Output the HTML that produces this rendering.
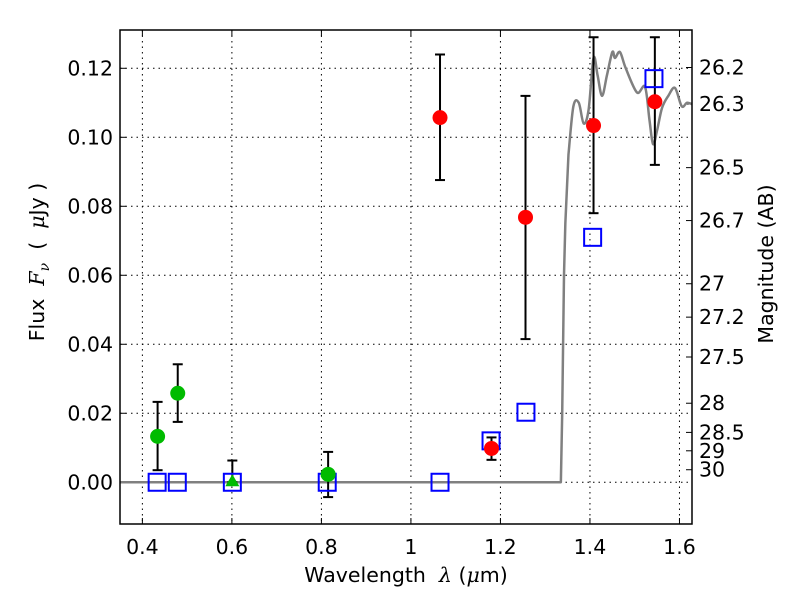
<!DOCTYPE html>
<html><head><meta charset="utf-8"><style>
body{margin:0;background:#fff;}
svg text{font-family:"DejaVu Sans","Liberation Sans",sans-serif;white-space:pre;}
</style></head><body>
<svg id="c" width="800" height="600" xmlns="http://www.w3.org/2000/svg" style="position:absolute;left:0;top:0"></svg>
<script>
const xTicks=[0.4,0.6,0.8,1.0,1.2,1.4,1.6];
const xTickLabels=["0.4","0.6","0.8","1","1.2","1.4","1.6"];
const yTicks=[0,0.02,0.04,0.06,0.08,0.1,0.12];
const yTickLabels=["0.00","0.02","0.04","0.06","0.08","0.10","0.12"];
const magTicks=[26.2,26.3,26.5,26.7,27,27.2,27.5,28,28.5,29,30];
const greenX=[0.434,0.479,0.815];
const greenY=[0.0133,0.0258,0.0023];
const greenLo=[0.0035,0.0175,-0.0043];
const greenHi=[0.0233,0.0342,0.0088];
const triX=[0.601];const triY=[0.0];const triLo=[0.0];const triHi=[0.0063];
const redX=[1.065,1.18,1.256,1.408,1.545];
const redY=[0.1057,0.0098,0.0768,0.1034,0.1103];
const redLo=[0.0876,0.0065,0.0415,0.078,0.092];
const redHi=[0.124,0.013,0.112,0.129,0.129];
const sqX=[0.433,0.478,0.601,0.813,1.065,1.179,1.257,1.406,1.543];
const sqY=[0,0,0,0,0,0.012,0.0203,0.071,0.117];
const sedX=[0.35,1.0,1.335,1.338,1.342,1.345,1.352,1.363,1.375,1.386,1.397,1.408,1.417,1.427,1.438,1.45,1.456,1.467,1.48,1.505,1.523,1.533,1.541,1.55,1.561,1.575,1.59,1.605,1.617,1.63];
const sedY=[0,0,0,0.02,0.06,0.075,0.095,0.109,0.11,0.104,0.108,0.123,0.118,0.112,0.118,0.1247,0.123,0.1247,0.12,0.113,0.1146,0.105,0.098,0.102,0.1085,0.112,0.1143,0.109,0.11,0.1095];

const L=120,R=692,T=30,B=524,X0=0.35,X1=1.628,Y0=-0.0121,Y1=0.1311;
const sx=v=>L+(v-X0)/(X1-X0)*(R-L);
const sy=v=>B-(v-Y0)/(Y1-Y0)*(B-T);
const svg=document.getElementById('c');const NS="http://www.w3.org/2000/svg";
function mk(t,a,p){const e=document.createElementNS(NS,t);for(const k in a)e.setAttribute(k,a[k]);(p||svg).appendChild(e);return e;}
const cp=mk('clipPath',{id:'clip'});mk('rect',{x:L,y:T,width:R-L,height:B-T},cp);
const g=mk('g',{});


xTicks.forEach((v,i)=>{
 mk('line',{x1:sx(v),x2:sx(v),y1:T,y2:B,stroke:'#000','stroke-dasharray':'1.5,4','stroke-width':1},g);
 mk('line',{x1:sx(v),x2:sx(v),y1:B,y2:B-6,stroke:'#000'},g);mk('line',{x1:sx(v),x2:sx(v),y1:T,y2:T+6,stroke:'#000'},g);
 const t=mk('text',{x:sx(v),y:B+30,'text-anchor':'middle','font-size':20.5});t.textContent=xTickLabels[i];
 
 
});
yTicks.forEach((v,i)=>{
 mk('line',{x1:L,x2:R,y1:sy(v),y2:sy(v),stroke:'#000','stroke-dasharray':'1.5,4','stroke-width':1},g);
 mk('line',{x1:L,x2:L+6,y1:sy(v),y2:sy(v),stroke:'#000'},g);
 const t=mk('text',{x:L-7,y:sy(v)+7,'text-anchor':'end','font-size':20.5});t.textContent=yTickLabels[i];
 
 
});
magTicks.forEach(m=>{
 const f=Math.pow(10,(23.9-m)/2.5);const y=sy(f);
 mk('line',{x1:R,x2:R-6,y1:y,y2:y,stroke:'#000'});
 const t=mk('text',{x:R+7,y:y+7,'font-size':20.5});t.textContent=String(m);
 
 
});
// SED: straight segments for the flat part and steep rise, smooth spline for the bumpy part
const P=sedX.map((v,i)=>[sx(v),sy(sedY[i])]);
const K=6;
let d='M'+P[0][0]+','+P[0][1];
for(let i=0;i<P.length-1;i++){
 if(i<K){d+=` L${P[i+1][0]},${P[i+1][1]}`;continue;}
 const p0=P[Math.max(K,i-1)],p1=P[i],p2=P[i+1],p3=P[Math.min(P.length-1,i+2)];
 const c1=[p1[0]+(p2[0]-p0[0])/6,p1[1]+(p2[1]-p0[1])/6],c2=[p2[0]-(p3[0]-p1[0])/6,p2[1]-(p3[1]-p1[1])/6];
 d+=` C${c1[0]},${c1[1]} ${c2[0]},${c2[1]} ${p2[0]},${p2[1]}`;}
const sed=mk('path',{d:d,fill:'none',stroke:'#808080','stroke-width':2.5,'clip-path':'url(#clip)','stroke-linejoin':'round'});


function err(xs,lo,hi){xs.forEach((v,i)=>{const x=sx(v);mk('line',{x1:x,x2:x,y1:sy(lo[i]),y2:sy(hi[i]),stroke:'#000','stroke-width':2});
 [lo[i],hi[i]].forEach(e=>mk('line',{x1:x-5,x2:x+5,y1:sy(e),y2:sy(e),stroke:'#000','stroke-width':2}));});}
err(greenX,greenLo,greenHi);err(triX,triLo,triHi);err(redX,redLo,redHi);
sqX.forEach((v,i)=>{const r=mk('rect',{x:sx(v)-8.5,y:sy(sqY[i])-8.5,width:17,height:17,fill:'none',stroke:'#0000ff','stroke-width':2});
 
 });
greenX.forEach((v,i)=>{const c=mk('circle',{cx:sx(v),cy:sy(greenY[i]),r:7.5,fill:'#00bb00'});
 
 });
triX.forEach((v,i)=>{const x=sx(v),y=sy(triY[i]);const p=mk('polygon',{points:`${x},${y-8} ${x-7},${y+4} ${x+7},${y+4}`,fill:'#00bb00'});
 
 });
redX.forEach((v,i)=>{const c=mk('circle',{cx:sx(v),cy:sy(redY[i]),r:7.5,fill:'#ff0000'});
 
 });
const fr=mk('rect',{x:L,y:T,width:R-L,height:B-T,fill:'none',stroke:'#000','stroke-width':1.5});


</script>
<svg style="position:absolute;left:0;top:0" width="800" height="600" xmlns="http://www.w3.org/2000/svg">
<text x="406" y="582" text-anchor="middle" font-size="20.5" font-family="DejaVu Sans,sans-serif">Wavelength  <tspan font-style="italic" font-family="DejaVu Serif,serif">λ</tspan> (<tspan font-style="italic" font-family="DejaVu Serif,serif">μ</tspan>m)</text>
<text transform="translate(44,262) rotate(-90)" text-anchor="middle" font-size="20.5" font-family="DejaVu Sans,sans-serif">Flux  <tspan font-style="italic" font-family="DejaVu Serif,serif">F<tspan font-size="14" dy="5">ν</tspan></tspan><tspan dy="-5">  (  </tspan><tspan font-style="italic" font-family="DejaVu Serif,serif">μ</tspan>Jy )</text>
<text transform="translate(773,264) rotate(-90)" text-anchor="middle" font-size="20.5" font-family="DejaVu Sans,sans-serif">Magnitude (AB)</text>
</svg>
</body></html>
